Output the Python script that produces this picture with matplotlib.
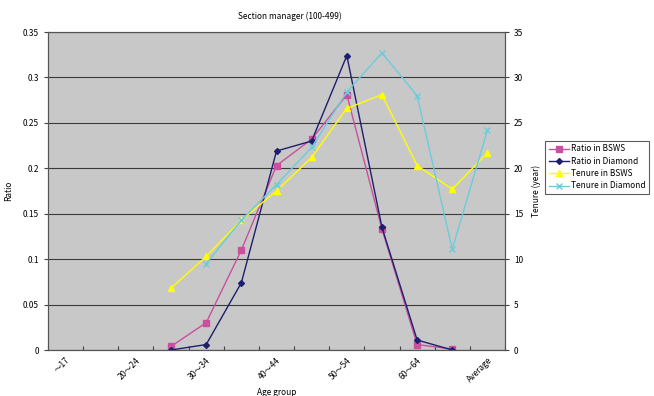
import matplotlib
matplotlib.use('Agg')
import matplotlib.pyplot as plt
import numpy as np

plt.rcParams['font.family'] = ['Noto Sans CJK JP', 'DejaVu Sans']
plt.rcParams['font.size'] = 6

# Age groups (13 categories, every other one labelled)
categories = ['～17', '18～19', '20～24', '25～29', '30～34', '35～39', '40～44',
              '45～49', '50～54', '55～59', '60～64', '65～', 'Average']
shown_labels = ['～17', '', '20～24', '', '30～34', '', '40～44',
                '', '50～54', '', '60～64', '', 'Average']

# Ratio series (25~29 .. 65~)
ratio_idx = [3, 4, 5, 6, 7, 8, 9, 10, 11]
ratio_bsws = [0.004, 0.030, 0.110, 0.203, 0.232, 0.281, 0.133, 0.006, 0.001]
ratio_diamond = [0.000, 0.006, 0.074, 0.219, 0.230, 0.324, 0.135, 0.011, 0.000]

# Tenure series (years)
tenure_bsws_idx = [3, 4, 5, 6, 7, 8, 9, 10, 11, 12]
tenure_bsws = [6.8, 10.3, 14.3, 17.5, 21.2, 26.6, 28.1, 20.3, 17.7, 21.7]
tenure_diamond_idx = [4, 5, 6, 7, 8, 9, 10, 11, 12]
tenure_diamond = [9.5, 14.3, 18.2, 22.3, 28.4, 32.7, 28.0, 11.1, 24.2]

W, H = 654, 396
fig = plt.figure(figsize=(W / 100, H / 100), dpi=100)
ax = fig.add_axes([48 / W, 46 / H, 457 / W, 318 / H])
ax.set_facecolor('#c8c8c8')
ax2 = ax.twinx()

x = np.arange(len(categories)) + 0.5
xr = x[ratio_idx]

l1, = ax.plot(xr, ratio_bsws, color='#c8509e', marker='s', markersize=4.5, lw=1.0,
              label='Ratio in BSWS')
l2, = ax.plot(xr, ratio_diamond, color='#1e1e6e', marker='D', markersize=3, lw=1.0,
              label='Ratio in Diamond')
l3, = ax2.plot(x[tenure_bsws_idx], tenure_bsws, color='#ffff00', marker='^', markersize=4.5,
               lw=1.0, label='Tenure in BSWS')
l4, = ax2.plot(x[tenure_diamond_idx], tenure_diamond, color='#6cccdc', marker='x',
               markersize=4.5, mew=1.0, lw=1.0, label='Tenure in Diamond')

ax.set_xlim(0, len(categories))
ax.set_ylim(0, 0.35)
ax2.set_ylim(0, 35)
ax.set_yticks(np.arange(0, 0.351, 0.05))
ax.set_yticklabels(['0', '0.05', '0.1', '0.15', '0.2', '0.25', '0.3', '0.35'])
ax2.set_yticks(np.arange(0, 36, 5))
ax.yaxis.grid(True, color='#3a3a3a', lw=0.8)
ax.set_axisbelow(True)

ax.set_xticks(np.arange(len(categories) + 1), minor=False)
ax.set_xticklabels([])
ax.set_xticks(x, minor=True)
ax.set_xticklabels(shown_labels, minor=True, rotation=45, ha='right', va='top',
                   rotation_mode='anchor')
ax.tick_params(axis='x', which='major', direction='in', length=3, color='#444444')
ax.tick_params(axis='x', which='minor', length=0, pad=4)
ax.tick_params(axis='y', direction='out', length=3, color='#444444')
ax2.tick_params(axis='y', direction='out', length=3, color='#444444')
for a in (ax, ax2):
    for s in a.spines.values():
        s.set_color('#555555')
        s.set_linewidth(0.8)

ax.set_ylabel('Ratio')
ax.yaxis.set_label_coords(-(48 - 13) / 457, 0.5)
ax2.set_ylabel('Tenure (year)')
ax2.yaxis.set_label_coords(1 + (532 - 505) / 457, 0.5)
ax.set_xlabel('Age group')
ax.xaxis.set_label_coords(0.5, -(388 - 350) / 318)

fig.text(290 / W, 1 - 16 / H, 'Section manager (100-499)', ha='center', va='center')

leg = fig.legend(handles=[l1, l2, l3, l4], loc='upper left',
                 bbox_to_anchor=(541 / W, 1 - 137 / H), frameon=True, fancybox=False,
                 edgecolor='#333333', handlelength=2.4, borderpad=0.4, labelspacing=0.4,
                 handletextpad=0.3)
leg.get_frame().set_linewidth(0.8)

fig.savefig('out.png', dpi=100)
